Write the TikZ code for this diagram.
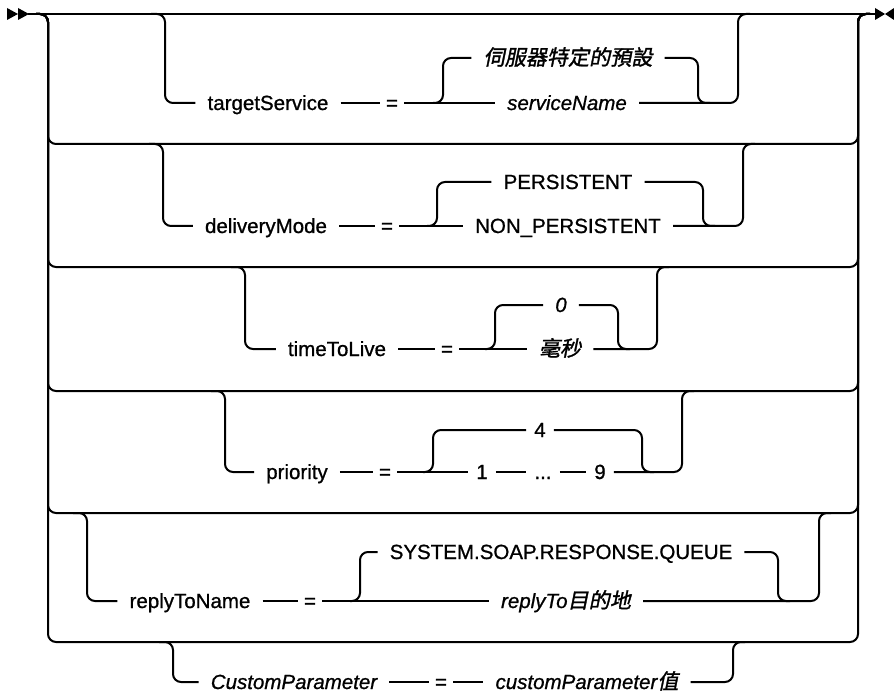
\documentclass[tikz,border=0pt]{standalone}
\usepackage{fontspec}
\setmainfont{Liberation Sans}[FakeBold=0.9]
\newfontfamily\cjk[FakeSlant=0.2,FakeBold=1.4,Scale=1.03]{Noto Sans CJK TC}
\newcommand{\cj}[1]{{\upshape\cjk #1}}
\begin{document}
\begin{tikzpicture}[x=1pt,y=-1pt]
\tikzset{
 base/.style={inner ysep=0pt, text height=15pt, text depth=1pt, font=\fontsize{20.5}{24}\selectfont},
 kw/.style={base, inner xsep=12pt},
 var/.style={base, inner xsep=12pt, font=\fontsize{20.5}{24}\selectfont\itshape},
 eqn/.style={base, inner xsep=6pt},
 num/.style={base, inner xsep=8pt},
 ln/.style={line width=2pt, rounded corners=8pt},
 tip/.style={fill=black},
}
\useasboundingbox (0,0) rectangle (894,695);

% main line and end marks
\coordinate (start) at (28,14);
\coordinate (end) at (876,14);
\fill[tip] (7,8) -- (18,14) -- (7,20) -- cycle;
\fill[tip] (18,8) -- (29,14) -- (18,20) -- cycle;
\fill[tip] (875,8) -- (885,14) -- (875,20) -- cycle;
\fill[tip] (894,8) -- (885,14) -- (894,20) -- cycle;
\draw[ln] (start) -- (end);

% outer choice frame
\coordinate (Ltop) at (48,14);
\coordinate (Rtop) at (858,14);
\foreach \r in {144,267,391,513,642}{
  \draw[ln] (36,14) -- (Ltop) -- (48,\r) -- (858,\r) -- (Rtop) -- (870,14);
}

% ---------- row 1 ----------
\node[kw]  (ts)  at (268,103) {targetService};
\node[eqn] (eq1) at (392,103) {=};
\node[var] (def) at (568,58)  {\cj{伺服器特定的預設}};
\node[var] (sn)  at (567,103) {serviceName};
\coordinate (b1) at (165,14);
\coordinate (s1) at (443,103);
\coordinate (u1) at (698,58);
\coordinate (j1) at (738,103);
\draw[ln] ([xshift=-14]b1) -- (b1) -- (b1 |- ts) -- (ts.west);
\draw[ln] (ts) -- (eq1);
\draw[ln] (eq1.east) -- (sn.west);
\draw[ln] ([xshift=-10]s1) -- (s1) -- (s1 |- def) -- (def.west);
\draw[ln] (def.east) -- (u1) -- (u1 |- sn) -- ([xshift=12]u1 |- sn);
\draw[ln] (sn.east) -- (j1) -- (j1 |- b1) -- ([xshift=12]j1 |- b1);

% ---------- row 2 ----------
\node[kw]  (dm)    at (266,226) {deliveryMode};
\node[eqn] (eq2)   at (387,226) {=};
\node[kw]  (pers)  at (568,182) {PERSISTENT};
\node[kw]  (npers) at (568,226) {NON\_PERSISTENT};
\coordinate (b2) at (163,144);
\coordinate (s2) at (437,226);
\coordinate (u2) at (703,182);
\coordinate (j2) at (743,226);
\draw[ln] ([xshift=-14]b2) -- (b2) -- (b2 |- dm) -- (dm.west);
\draw[ln] (dm) -- (eq2);
\draw[ln] (eq2.east) -- (npers.west);
\draw[ln] ([xshift=-10]s2) -- (s2) -- (s2 |- pers) -- (pers.west);
\draw[ln] (pers.east) -- (u2) -- (u2 |- npers) -- ([xshift=12]u2 |- npers);
\draw[ln] (npers.east) -- (j2) -- (j2 |- b2) -- ([xshift=12]j2 |- b2);

% ---------- row 3 ----------
\node[kw]  (ttl)  at (337,349) {timeToLive};
\node[eqn] (eq3)  at (447,349) {=};
\node[var] (zero) at (561,305) {0};
\node[var] (ms)   at (560,349) {\cj{毫秒}};
\coordinate (b3) at (245,267);
\coordinate (s3) at (495,349);
\coordinate (u3) at (618,305);
\coordinate (j3) at (657,349);
\draw[ln] ([xshift=-14]b3) -- (b3) -- (b3 |- ttl) -- (ttl.west);
\draw[ln] (ttl) -- (eq3);
\draw[ln] (eq3.east) -- (ms.west);
\draw[ln] ([xshift=-10]s3) -- (s3) -- (s3 |- zero) -- (zero.west);
\draw[ln] (zero.east) -- (u3) -- (u3 |- ms) -- ([xshift=12]u3 |- ms);
\draw[ln] (ms.east) -- (j3) -- (j3 |- b3) -- ([xshift=12]j3 |- b3);

% ---------- row 4 ----------
\node[kw]  (pr)   at (297,472) {priority};
\node[eqn] (eq4)  at (385,472) {=};
\node[num] (four) at (540,430) {4};
\node[num] (one)  at (482,472) {1};
\node[num] (dots) at (543,472) {...};
\node[num] (nine) at (600,472) {9};
\coordinate (b4) at (225,391);
\coordinate (s4) at (433,472);
\coordinate (u4) at (642,430);
\coordinate (j4) at (682,472);
\draw[ln] ([xshift=-14]b4) -- (b4) -- (b4 |- pr) -- (pr.west);
\draw[ln] (pr) -- (eq4);
\draw[ln] (eq4.east) -- (one.west);
\draw[ln] (one) -- (dots);
\draw[ln] (dots) -- (nine);
\draw[ln] ([xshift=-10]s4) -- (s4) -- (s4 |- four) -- (four.west);
\draw[ln] (four.east) -- (u4) -- (u4 |- nine) -- ([xshift=12]u4 |- nine);
\draw[ln] (nine.east) -- (j4) -- (j4 |- b4) -- ([xshift=12]j4 |- b4);

% ---------- row 5 ----------
\node[kw]  (rtn) at (190,601) {replyToName};
\node[eqn] (eq5) at (310,601) {=};
\node[kw]  (ssr) at (561,552) {SYSTEM.SOAP.RESPONSE.QUEUE};
\node[var] (rtd) at (566,601) {replyTo\cj{目的地}};
\coordinate (b5) at (87,513);
\coordinate (s5) at (360,601);
\coordinate (u5) at (778,552);
\coordinate (j5) at (819,601);
\draw[ln] ([xshift=-14]b5) -- (b5) -- (b5 |- rtn) -- (rtn.west);
\draw[ln] (rtn) -- (eq5);
\draw[ln] (eq5.east) -- (rtd.west);
\draw[ln] ([xshift=-10]s5) -- (s5) -- (s5 |- ssr) -- (ssr.west);
\draw[ln] (ssr.east) -- (u5) -- (u5 |- rtd) -- ([xshift=12]u5 |- rtd);
\draw[ln] (rtd.east) -- (j5) -- (j5 |- b5) -- ([xshift=12]j5 |- b5);

% ---------- row 6 ----------
\node[var] (cp)  at (294,682) {CustomParameter};
\node[eqn] (eq6) at (441,682) {=};
\node[var] (cpv) at (587,682) {customParameter\cj{值}};
\coordinate (b6) at (173,642);
\coordinate (j6) at (733,682);
\draw[ln] ([xshift=-14]b6) -- (b6) -- (b6 |- cp) -- (cp.west);
\draw[ln] (cp) -- (eq6);
\draw[ln] (eq6) -- (cpv);
\draw[ln] (cpv.east) -- (j6) -- (j6 |- b6) -- ([xshift=12]j6 |- b6);
\end{tikzpicture}
\end{document}
